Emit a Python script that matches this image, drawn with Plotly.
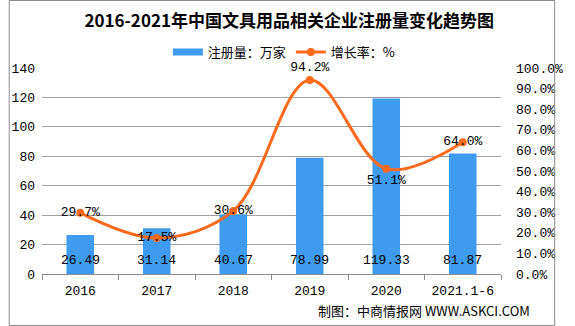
import plotly.graph_objects as go

categories = ["2016", "2017", "2018", "2019", "2020", "2021.1-6"]
registrations = [26.49, 31.14, 40.67, 78.99, 119.33, 81.87]
growth = [29.7, 17.5, 30.6, 94.2, 51.1, 64.0]
growth_pos = ["middle center", "middle center", "middle center", "top center", "bottom center", "middle center"]

title = "2016-2021年中国文具用品相关企业注册量变化趋势图"
bar_name = "注册量：万家"
line_name = "增长率：%"
source = "制图：中商情报网 WWW.ASKCI.COM"

mono = "Liberation Mono, DejaVu Sans Mono, monospace"
cjk = "Noto Sans CJK SC, sans-serif"
bar_color = "#3F9BF0"
line_color = "#FF6A1C"

W, H = 575, 326
L, R, T, B = 35, 57, 68, 52
pw, ph = W - L - R, H - T - B

fig = go.Figure()
fig.add_trace(go.Bar(
    x=categories, y=registrations, name=bar_name, showlegend=False,
    marker=dict(color=bar_color, line=dict(width=0)),
    width=0.36, yaxis="y",
))
# legend-only swatch for the bar series (wide rectangle like the reference)
fig.add_trace(go.Scatter(
    x=[None], y=[None], name=bar_name, mode="lines",
    line=dict(color=bar_color, width=7), yaxis="y", showlegend=True,
))
fig.add_trace(go.Scatter(
    x=categories, y=growth, name=line_name, yaxis="y2",
    mode="lines+markers+text",
    line=dict(color=line_color, width=3, shape="spline", smoothing=1.0),
    marker=dict(color=line_color, size=8),
    text=[f"{v:.1f}%" for v in growth],
    textposition=growth_pos,
    textfont=dict(family=mono, size=13, color="#000000"),
    cliponaxis=False,
))

# bar value labels (category index positions on the category axis)
for i, v in enumerate(registrations):
    fig.add_annotation(x=i, y=0, xref="x", yref="y", text=f"{v:.2f}",
                       showarrow=False, yshift=14, yanchor="middle",
                       font=dict(family=mono, size=13, color="#000000"))

fig.add_annotation(x=(551 - L) / pw, y=(T + ph - 310) / ph, xref="paper", yref="paper",
                   text=source, showarrow=False, xanchor="right", yanchor="middle",
                   font=dict(family=cjk, size=13, color="#000000"))

# outer border
fig.add_shape(type="rect", xref="paper", yref="paper",
              x0=(0.5 - L) / pw, x1=(W - 0.5 - L) / pw,
              y0=(T + ph - (H - 0.5)) / ph, y1=(T + ph - 0.5) / ph,
              line=dict(color="#8C8C8C", width=1), layer="above")

fig.update_layout(
    width=W, height=H,
    margin=dict(l=L, r=R, t=T, b=B),
    paper_bgcolor="#FFFFFF", plot_bgcolor="#FFFFFF",
    title=dict(text=title, x=0.503, xanchor="center", y=1 - 21 / H, yanchor="middle",
               font=dict(family=cjk, size=17, color="#000000", weight="bold")),
    legend=dict(orientation="h", x=(290 - L) / pw, xanchor="center",
                y=1 + (T - 52) / ph, yanchor="middle",
                font=dict(family=cjk, size=13, color="#000000"),
                bgcolor="rgba(0,0,0,0)", itemwidth=30, tracegroupgap=0),
    showlegend=True,
    xaxis=dict(type="category", range=[-0.5, len(categories) - 0.5], autorange=False,
               showgrid=False, showline=True, linecolor="#8C8C8C", linewidth=1,
               ticks="outside", tickson="boundaries", ticklen=5, tickcolor="#8C8C8C",
               tickangle=0, ticklabelstandoff=4,
               tickfont=dict(family=mono, size=13, color="#000000")),
    yaxis=dict(range=[0, 140], dtick=20, showgrid=True, gridcolor="#A0A0A0", gridwidth=1,
               zeroline=False, showline=False, ticks="", ticklabelstandoff=6,
               tickfont=dict(family=mono, size=13, color="#000000")),
    yaxis2=dict(range=[0, 100], dtick=10, overlaying="y", side="right", showgrid=False,
                zeroline=False, showline=False, tickformat=".1f", ticksuffix="%",
                ticklabelstandoff=14,
                tickfont=dict(family=mono, size=13, color="#000000")),
)

fig.write_html("out.html")
